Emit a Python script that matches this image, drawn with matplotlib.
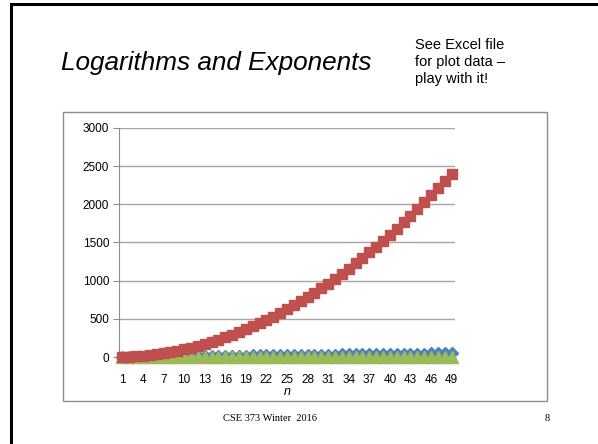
import numpy as np
import matplotlib.pyplot as plt
from matplotlib.patches import Rectangle
from matplotlib.lines import Line2D

# n from 1 to 49, three growth curves
n = np.arange(1, 50)
linear = n.astype(float)            # n
square = n.astype(float) ** 2       # n^2
logn = np.log2(n)                   # log2 n

x_ticks = list(range(1, 50, 3))
y_ticks = [0, 500, 1000, 1500, 2000, 2500, 3000]

W, H = 598, 444
fig = plt.figure(figsize=(W / 100, H / 100), dpi=100)
fig.patch.set_facecolor('white')

def px(x, y):
    # pixel coords (top-left origin) -> figure fraction
    return x / W, 1 - y / H

# slide border (left and top)
fig.add_artist(Line2D([11 / W, 11 / W], [0, 1 - 4 / H], color='black', lw=2.2, transform=fig.transFigure))
fig.add_artist(Line2D([11 / W, 1], [1 - 4 / H, 1 - 4 / H], color='black', lw=2.2, transform=fig.transFigure))

# chart frame
x0, y0 = px(63, 401)
x1, y1 = px(547, 112)
fig.add_artist(Rectangle((x0, y0), x1 - x0, y1 - y0, transform=fig.transFigure,
                         fill=False, edgecolor='#8c8c8c', lw=1.0))

# titles
fig.text(*px(61, 63), 'Logarithms and Exponents', fontsize=18.8, style='italic',
         family='Liberation Sans', ha='left', va='center')
fig.text(*px(415, 62), 'See Excel file\nfor plot data –\nplay with it!', fontsize=10.5,
         family='Liberation Sans', ha='left', va='center', linespacing=1.25)
fig.text(*px(270, 418), 'CSE 373 Winter  2016', fontsize=7.5, family='Liberation Serif',
         ha='center', va='center')
fig.text(*px(547, 418), '8', fontsize=7.5, family='Liberation Serif', ha='center', va='center')

# plot area
ax_l, ax_b = px(119, 357)
ax_r, ax_t = px(455, 128)
ax = fig.add_axes([ax_l, ax_b, ax_r - ax_l, ax_t - ax_b])
ax.set_xlim(0.5, 49.5)
ax.set_ylim(0, 3000)
ax.set_yticks(y_ticks)
ax.set_xticks(x_ticks)
ax.yaxis.grid(True, color='#a6a6a6', lw=1.0)
ax.set_axisbelow(True)
for side in ['top', 'right', 'bottom']:
    ax.spines[side].set_visible(False)
ax.spines['left'].set_color('#8c8c8c')
ax.tick_params(axis='y', length=4, color='#8c8c8c', labelsize=8.5, pad=3)
ax.tick_params(axis='x', length=0, labelsize=8.5, pad=12)
for lab in ax.get_xticklabels() + ax.get_yticklabels():
    lab.set_family('Liberation Sans')

ax.plot(n, linear, linestyle='none', marker='D', ms=6, color='#4f81bd', clip_on=False, zorder=3)
ax.plot(n, logn, linestyle='none', marker='^', ms=8.5, color='#9bbb59', clip_on=False, zorder=4)
ax.plot(n, square, linestyle='none', marker='s', ms=7.2, color='#c0504d', clip_on=False, zorder=5)

ax.set_xlabel('n', style='italic', fontsize=9, family='Liberation Sans', labelpad=0)

fig.savefig('out.png', dpi=100)
